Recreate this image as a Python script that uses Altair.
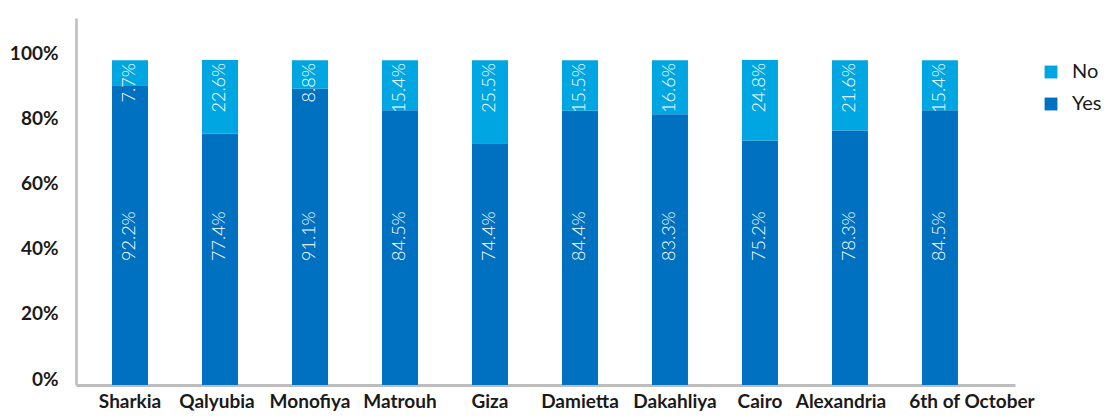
import altair as alt
import pandas as pd

regions = ["Sharkia", "Qalyubia", "Monofiya", "Matrouh", "Giza", "Damietta",
           "Dakahliya", "Cairo", "Alexandria", "6th of October"]
yes_vals = [92.2, 77.4, 91.1, 84.5, 74.4, 84.4, 83.3, 75.2, 78.3, 84.5]
no_vals = [7.7, 22.6, 8.8, 15.4, 25.5, 15.5, 16.6, 24.8, 21.6, 15.4]
y_ticks = [0, 20, 40, 60, 80, 100]

rows = []
for r, y, n in zip(regions, yes_vals, no_vals):
    rows.append({"region": r, "answer": "Yes", "value": y, "start": 0.0, "end": y})
    rows.append({"region": r, "answer": "No", "value": n, "start": y, "end": y + n})
df = pd.DataFrame(rows)

FONT = "Lato"
label_shift = {
    "condition": [
        {"test": "datum.label == '6th of October'", "value": 32},
        {"test": "datum.label == 'Alexandria'", "value": -9},
        {"test": "datum.label == 'Dakahliya'", "value": 5},
        {"test": "datum.label == 'Qalyubia'", "value": -3},
    ],
    "value": 0,
}

x_enc = alt.X("region:N", sort=regions, title=None,
              scale=alt.Scale(paddingInner=0.6, paddingOuter=0.517, align=0.387),
              axis=alt.Axis(labelAngle=0, labelFont=FONT, labelFontSize=19,
                            labelFontWeight="bold", labelColor="#1a1a1a",
                            labelBaseline="alphabetic", labelPadding=22,
                            labelOffset=label_shift, labelOverlap=False,
                            ticks=False, domainColor="#BDBDBD",
                            domainWidth=3, grid=False))
y_scale = alt.Scale(domain=[0, 112.9], nice=False)

base = alt.Chart(df)

bars = base.mark_bar(size=36).encode(
    x=x_enc,
    y=alt.Y("start:Q", scale=y_scale, title=None,
            axis=alt.Axis(values=y_ticks, labelExpr="datum.value + '%'",
                          labelFont=FONT, labelFontSize=19, labelFontWeight="bold",
                          labelColor="#1a1a1a", ticks=False, labelPadding=18,
                          labelOffset=-6, grid=False, domainColor="#BDBDBD",
                          domainWidth=2.5)),
    y2="end:Q",
    color=alt.Color("answer:N", scale=alt.Scale(domain=["No", "Yes"],
                                                range=["#00A6E1", "#0070C0"]),
                    legend=alt.Legend(title=None, orient="none", legendX=965,
                                      legendY=44, symbolType="square",
                                      symbolSize=165, symbolStrokeWidth=0,
                                      labelFont=FONT, labelFontSize=20,
                                      labelColor="#1a1a1a", labelOffset=11,
                                      rowPadding=12, padding=0)),
)

no_text = base.transform_filter(alt.datum.answer == "No").transform_calculate(
    lbl="format(datum.value, '.1f') + '%'"
).mark_text(angle=270, align="right", baseline="middle", dx=-3, font=FONT,
            fontSize=18, fontWeight=300, color="white").encode(
    x=alt.X("region:N", sort=regions),
    y=alt.Y("end:Q", scale=y_scale),
    text="lbl:N",
)

yes_text = base.transform_filter(alt.datum.answer == "Yes").transform_calculate(
    lbl="format(datum.value, '.1f') + '%'"
).mark_text(angle=270, align="center", baseline="middle", font=FONT,
            fontSize=18, fontWeight=300, color="white").encode(
    x=alt.X("region:N", sort=regions),
    y=alt.datum(45.8, scale=y_scale),
    text="lbl:N",
)

chart = alt.layer(bars, no_text, yes_text).properties(
    width=939, height=367,
    background="white",
    autosize=alt.AutoSizeParams(type="none"),
    padding={"left": 68, "top": 10, "right": 88, "bottom": 26},
).configure_view(stroke=None)

chart.save("out.html", embed_options={"renderer": "svg", "actions": False})
